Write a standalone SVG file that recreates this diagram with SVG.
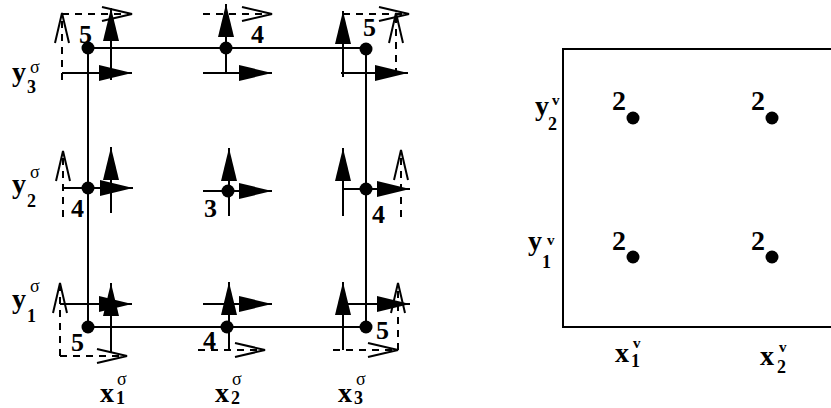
<svg xmlns="http://www.w3.org/2000/svg" width="831" height="408" viewBox="0 0 831 408">
<style>
.ln{stroke:#000;stroke-width:2;fill:none}
.sa{stroke:#000;stroke-width:2;fill:none;marker-end:url(#fa)}
.da{stroke:#000;stroke-width:2;fill:none;stroke-dasharray:7,6;marker-end:url(#oa)}
.dot{fill:#000}
.num{font-family:"Liberation Serif",serif;font-weight:bold;font-size:26px;fill:#000}
.two{font-family:"Liberation Serif",serif;font-weight:bold;font-size:28px;fill:#000}
.var{font-family:"Liberation Serif",serif;font-weight:bold;font-size:28px;fill:#000}
.sub{font-family:"Liberation Serif",serif;font-weight:bold;font-size:18px;fill:#000}
.sig{font-family:"Liberation Serif",serif;font-size:18px;fill:#000}
.sv{font-family:"Liberation Serif",serif;font-weight:bold;font-size:15px;fill:#000}
</style>
<defs>
<marker id="fa" markerUnits="userSpaceOnUse" markerWidth="34" markerHeight="18" viewBox="0 -1 34 18" refX="33" refY="8" orient="auto">
<path d="M0,0 L33,8 L0,16 z" fill="#000"/>
</marker>
<marker id="oa" markerUnits="userSpaceOnUse" markerWidth="34" markerHeight="18" viewBox="-1 -1 34 18" refX="30" refY="7" orient="auto">
<path d="M0,0 L30,7 L0,14" fill="none" stroke="#000" stroke-width="2"/>
</marker>
</defs>
<rect width="831" height="408" fill="#fff"/>
<g id="connectors">
<line class="ln" x1="88" y1="48" x2="366" y2="48"/>
<line class="ln" x1="88" y1="327" x2="366" y2="327"/>
<line class="ln" x1="88" y1="48" x2="88" y2="327"/>
<line class="ln" x1="366" y1="48" x2="366" y2="327"/>
</g>
<g id="n11">
<line class="sa" x1="62" y1="73" x2="132" y2="73"/>
<line class="sa" x1="111" y1="80" x2="111" y2="8"/>
<line class="da" x1="62" y1="80" x2="62" y2="13"/>
<line class="da" x1="62" y1="14" x2="132" y2="14"/>
<circle class="dot" cx="88" cy="48" r="6.5"/>
<text class="num" x="79" y="43">5</text>
</g>
<g id="n21">
<line class="sa" x1="203" y1="73" x2="272" y2="73"/>
<line class="sa" x1="226" y1="73" x2="226" y2="4"/>
<line class="da" x1="203" y1="14" x2="272" y2="14"/>
<circle class="dot" cx="226" cy="48" r="6.5"/>
<text class="num" x="251" y="43">4</text>
</g>
<g id="n31">
<line class="sa" x1="343" y1="77" x2="343" y2="11"/>
<line class="sa" x1="341" y1="73" x2="408" y2="73"/>
<line class="da" x1="343" y1="14" x2="409" y2="14"/>
<line class="da" x1="396" y1="75" x2="396" y2="13"/>
<circle class="dot" cx="366" cy="49" r="6.5"/>
<text class="num" x="363" y="36">5</text>
</g>
<g id="n12">
<line class="sa" x1="63" y1="188" x2="133" y2="188"/>
<line class="sa" x1="111" y1="213" x2="111" y2="147"/>
<line class="da" x1="63" y1="217" x2="63" y2="151"/>
<circle class="dot" cx="88" cy="188" r="6.5"/>
<text class="num" x="71" y="217">4</text>
</g>
<g id="n22">
<line class="sa" x1="203" y1="191" x2="272" y2="191"/>
<line class="sa" x1="229" y1="216" x2="229" y2="148"/>
<circle class="dot" cx="228" cy="191" r="6.5"/>
<text class="num" x="204" y="217">3</text>
</g>
<g id="n32">
<line class="sa" x1="343" y1="216" x2="343" y2="148"/>
<line class="sa" x1="343" y1="189" x2="410" y2="189"/>
<line class="da" x1="401" y1="217" x2="401" y2="150"/>
<circle class="dot" cx="366" cy="189" r="6.5"/>
<text class="num" x="372" y="223">4</text>
</g>
<g id="n13">
<line class="sa" x1="60" y1="304" x2="132" y2="304"/>
<line class="sa" x1="111" y1="352" x2="111" y2="283"/>
<line class="da" x1="60" y1="356" x2="60" y2="283"/>
<line class="da" x1="60" y1="356" x2="127" y2="356"/>
<circle class="dot" cx="88" cy="327" r="6.5"/>
<text class="num" x="71" y="351">5</text>
</g>
<g id="n23">
<line class="sa" x1="203" y1="304" x2="272" y2="304"/>
<line class="sa" x1="229" y1="350" x2="229" y2="282"/>
<line class="da" x1="198" y1="350" x2="265" y2="350"/>
<circle class="dot" cx="227" cy="327" r="6.5"/>
<text class="num" x="203" y="349">4</text>
</g>
<g id="n33">
<line class="sa" x1="343" y1="350" x2="343" y2="282"/>
<line class="sa" x1="343" y1="304" x2="410" y2="304"/>
<line class="da" x1="398" y1="350" x2="398" y2="283"/>
<line class="da" x1="333" y1="350" x2="398" y2="350"/>
<circle class="dot" cx="366" cy="327" r="6.5"/>
<text class="num" x="376" y="339">5</text>
</g>
<g id="sigma-labels">
<text class="var" x="100" y="402">x</text><text class="sub" x="116" y="404">1</text><text class="sig" x="117" y="385">σ</text>
<text class="var" x="215" y="402">x</text><text class="sub" x="231" y="404">2</text><text class="sig" x="232" y="385">σ</text>
<text class="var" x="338" y="402">x</text><text class="sub" x="354" y="404">3</text><text class="sig" x="356" y="385">σ</text>
<text class="var" x="12" y="81">y</text><text class="sub" x="27" y="93">3</text><text class="sig" x="30" y="73">σ</text>
<text class="var" x="12" y="193">y</text><text class="sub" x="27" y="207">2</text><text class="sig" x="30" y="178">σ</text>
<text class="var" x="12" y="308">y</text><text class="sub" x="27" y="322">1</text><text class="sig" x="30" y="292">σ</text>
</g>
<g id="v-box">
<path class="ln" d="M833,49 H563 V327 H833" stroke-width="2.5"/>
</g>
<g id="v11"><circle class="dot" cx="633" cy="257" r="6.5"/><text class="two" x="612" y="250">2</text></g>
<g id="v21"><circle class="dot" cx="772" cy="257" r="6.5"/><text class="two" x="751" y="250">2</text></g>
<g id="v12"><circle class="dot" cx="633" cy="118" r="6.5"/><text class="two" x="612" y="110">2</text></g>
<g id="v22"><circle class="dot" cx="772" cy="118" r="6.5"/><text class="two" x="751" y="110">2</text></g>
<g id="v-labels">
<text class="var" x="615" y="362">x</text><text class="sub" x="631" y="367">1</text><text class="sv" x="633" y="348">v</text>
<text class="var" x="760" y="365">x</text><text class="sub" x="777" y="373">2</text><text class="sv" x="779" y="352">v</text>
<text class="var" x="535" y="115">y</text><text class="sub" x="548" y="130">2</text><text class="sv" x="552" y="105">v</text>
<text class="var" x="528" y="250">y</text><text class="sub" x="542" y="268">1</text><text class="sv" x="547" y="245">v</text>
</g>
</svg>
